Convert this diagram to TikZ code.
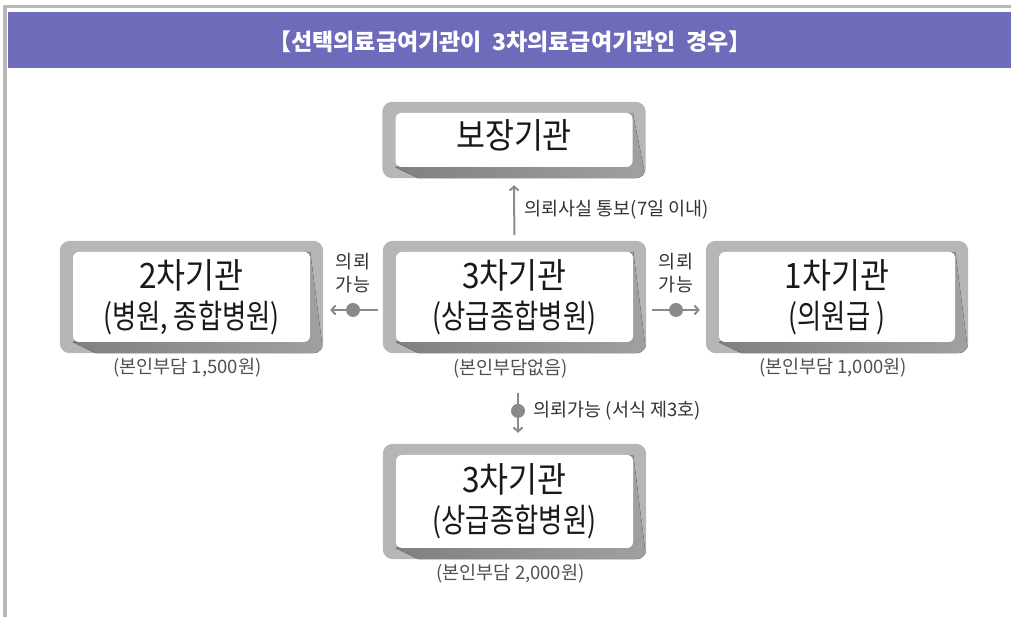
\documentclass[tikz,border=0pt]{standalone}
\usepackage{fontspec}
\setmainfont{Noto Sans CJK KR}
\newfontfamily\bigkr[FakeStretch=0.9]{Noto Sans CJK KR}
\newfontfamily\subkr[FakeStretch=0.8]{Noto Sans CJK KR}
\usepackage{tikz}
\usetikzlibrary{positioning,calc,backgrounds,arrows.meta}

\definecolor{bandpurple}{RGB}{111,107,187}
\definecolor{framegray}{RGB}{182,182,182}
\definecolor{shadedark}{RGB}{128,128,128}
\definecolor{shadelight}{RGB}{160,160,160}
\definecolor{linkgray}{RGB}{138,138,138}
\definecolor{notegray}{RGB}{80,80,80}

\newcommand{\headline}[1]{{\bigkr\fontsize{35}{40}\selectfont #1}}
\newcommand{\subline}[1]{{\subkr\fontsize{33}{40}\selectfont #1}}

\tikzset{
    inst/.style={fill=white, rounded corners=6pt, minimum width=237pt, minimum height=90pt,
        inner sep=0pt, align=center, text=black!90, font=\fontsize{33}{40}\selectfont},
    cost/.style={text=notegray, font=\fontsize{18.5}{20}\selectfont},
    refer/.style={draw=linkgray, line width=2pt, -{Straight Barb[length=4pt,width=9pt]}},
    refdot/.style={circle, fill=linkgray, minimum size=14pt, inner sep=0pt},
    reflabel/.style={text=black!80, font=\fontsize{18.5}{23}\selectfont, align=center},
}

\begin{document}
\begin{tikzpicture}[x=1pt,y=1pt]
    \useasboundingbox (0,0) rectangle (1011,617);

    % Window edge and title band
    \fill[black!28] (3,0) rectangle (7,612);
    \fill[black!28] (3,609) rectangle (1011,612);
    \fill[bandpurple] (8,549) rectangle (1011,605);
    \node[text=white, font=\bfseries\fontsize{23}{26}\selectfont] (title) at (510,575)
        {【선택의료급여기관이\ \ 3차의료급여기관인\ \ 경우】};

    % Institutions
    \node[inst, minimum height=54pt] (ins) at (514,477) {\raisebox{5pt}[\height][\depth]{\headline{보장기관}}};
    \node[inst] (sec) at (514.5,320) {\headline{3차기관}\\\subline{(상급종합병원)}};
    \node[inst] (hosp) at (191.5,320) {\headline{2차기관}\\\subline{(병원, 종합병원)}};
    \node[inst, minimum width=236pt] (clinic) at (837,320) {\headline{1차기관}\\\subline{(의원급 )}};
    \node[inst, minimum height=93pt] (tert) at (514.5,115.5) {\headline{3차기관}\\\subline{(상급종합병원)}};

    % Patient share under each box
    \node[cost] (hospcost) at ([xshift=-4pt,yshift=-25pt]hosp.south) {(본인부담 1,500원)};
    \node[cost] (seccost) at ([xshift=-4pt,yshift=-26pt]sec.south) {(본인부담없음)};
    \node[cost] (cliniccost) at ([xshift=-4pt,yshift=-25pt]clinic.south) {(본인부담 1,000원)};
    \node[cost] (tertcost) at ([xshift=-4pt,yshift=-25pt]tert.south) {(본인부담 2,000원)};

    % Grey frames with shadow behind the white boxes
    \begin{scope}[on background layer]
        \foreach \n in {ins,sec,hosp,clinic,tert} {
            \fill[framegray, rounded corners=10pt] ($(\n.south west)+(-13,-11)$) rectangle ($(\n.north east)+(13,11)$);
            \begin{scope}
                \clip[rounded corners=10pt] ($(\n.south west)+(-13,-11)$) rectangle ($(\n.north east)+(13,11)$);
                \fill[left color=shadedark, right color=shadelight] (\n.south west) -- ++(23,-11)
                    -- ($(\n.south east)+(13,-11)$) -- (\n.north east) -- cycle;
            \end{scope}
        }
    \end{scope}

    % Referrals
    \draw[refer, shorten <=17pt, shorten >=18pt] (sec) -- (ins)
        node[midway, right=6pt, reflabel] (notice) {의뢰사실 통보(7일 이내)};
    \draw[refer, shorten <=18pt, shorten >=20pt] ([yshift=-13pt]sec.west) -- ([yshift=-13pt]hosp.east)
        node[refdot, pos=0.5] (dotl) {};
    \draw[refer, shorten <=19pt, shorten >=19pt] ([yshift=-13pt]sec.east) -- ([yshift=-13pt]clinic.west)
        node[refdot, pos=0.5] (dotr) {};
    \draw[refer, shorten <=51pt, shorten >=22pt] ([xshift=3.5pt]sec.south) -- ([xshift=3.5pt]tert.north)
        node[refdot, pos=0.61] (dotd) {};
    \node[reflabel, above=6pt of dotl] (labl) {의뢰\\가능};
    \node[reflabel, above=6pt of dotr] (labr) {의뢰\\가능};
    \node[reflabel, right=4pt of dotd] (labd) {의뢰가능 (서식 제3호)};
\end{tikzpicture}
\end{document}
